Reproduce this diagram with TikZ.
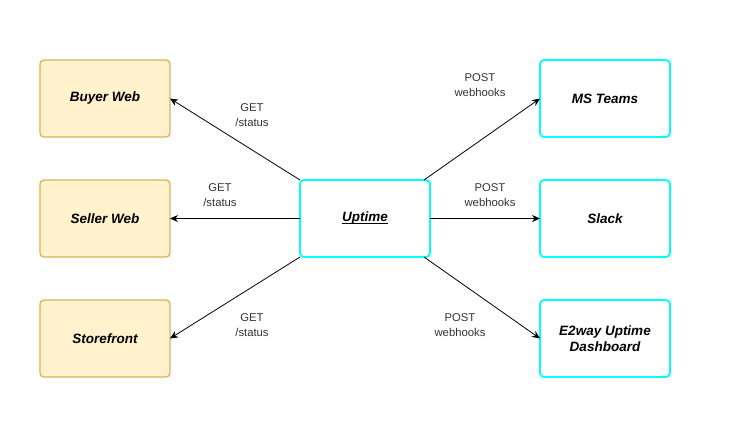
\documentclass[tikz,border=0pt]{standalone}
\usepackage{fontspec}
\setmainfont{Liberation Sans}
\usetikzlibrary{arrows.meta}
\definecolor{yfill}{HTML}{FFF2CC}
\definecolor{ydraw}{HTML}{D6B656}
\definecolor{cyanb}{HTML}{00FFFF}
\definecolor{lbl}{HTML}{333333}
\newcommand\myul[1]{\setbox0\hbox{#1}\rlap{\rule[-2pt]{\wd0}{0.9pt}}\box0}
\tikzset{
  base/.style={rectangle, rounded corners=4pt, minimum width=130pt, minimum height=77pt, outer sep=0pt, font=\fontsize{13.5}{16}\selectfont\bfseries\itshape, align=center, inner sep=0pt},
  ybox/.style={base, fill=yfill, draw=ydraw, line width=1.4pt},
  cbox/.style={base, fill=white, draw=cyanb, line width=1.8pt},
  conn/.style={draw=black, line width=0.8pt, -{Stealth[length=8pt,width=7pt]}},
  elbl/.style={font=\fontsize{11.3}{15}\selectfont, text=lbl, align=center, inner sep=0pt}
}
\begin{document}
\begin{tikzpicture}[x=1pt,y=-1pt]
\fill[white] (0,0) rectangle (731,431);
\useasboundingbox (0,0) rectangle (731,431);
\node[ybox] (buyer) at (105,98.5) {Buyer Web};
\node[ybox] (seller) at (105,218.5) {Seller Web};
\node[ybox] (store) at (105,338.5) {Storefront};
\node[cbox] (up) at (365,218.5) {\myul{Uptime}};
\node[cbox] (teams) at (605,98.5) {MS Teams};
\node[cbox] (slack) at (605,218.5) {Slack};
\node[cbox] (dash) at (605,338.5) {E2way Uptime\\Dashboard};
\draw[conn] (up.north west) -- (buyer.east);
\draw[conn] (up.west) -- (seller.east);
\draw[conn] (up.south west) -- (store.east);
\draw[conn] ([xshift=-6pt]up.north east) -- (teams.west);
\draw[conn] (up.east) -- (slack.west);
\draw[conn] ([xshift=-6pt]up.south east) -- (dash.west);
\node[elbl] (l1) at (252,115) {GET\\/status};
\node[elbl] (l2) at (220,195) {GET\\/status};
\node[elbl] (l3) at (252,325) {GET\\/status};
\node[elbl] (l4) at (480,85) {POST\\webhooks};
\node[elbl] (l5) at (490,195) {POST\\webhooks};
\node[elbl] (l6) at (460,325) {POST\\webhooks};
\end{tikzpicture}
\end{document}
